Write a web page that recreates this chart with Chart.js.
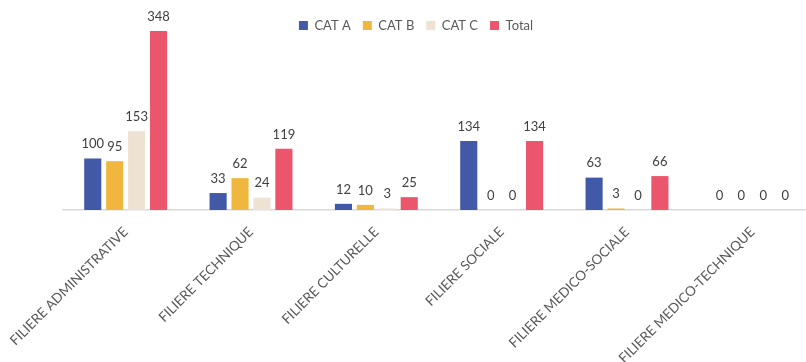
<!DOCTYPE html>
<html>
<head>
<meta charset="utf-8">
<script src="https://cdn.jsdelivr.net/npm/chart.js@4/dist/chart.umd.min.js"></script>
<style>
  html, body { margin: 0; padding: 0; background: #fff; overflow: hidden; }
  #wrap { position: absolute; left: 0; top: 0; width: 832px; height: 362px; }
</style>
</head>
<body>
<div id="wrap"><canvas id="c" width="832" height="362"></canvas></div>
<script>
// Effectifs par filière et par catégorie
const categories = [
  'FILIERE ADMINISTRATIVE',
  'FILIERE TECHNIQUE',
  'FILIERE CULTURELLE',
  'FILIERE SOCIALE',
  'FILIERE MEDICO-SOCIALE',
  'FILIERE MEDICO-TECHNIQUE'
];
const catA  = [100, 33, 12, 134, 63, 0];
const catB  = [95, 62, 10, 0, 3, 0];
const catC  = [153, 24, 3, 0, 0, 0];
const total = [348, 119, 25, 134, 66, 0];

const seriesNames = ['CAT A', 'CAT B', 'CAT C', 'Total'];
const seriesColors = ['#4159A6', '#F0B73E', '#EEE2D2', '#EB566C'];

const FONT = 'Lato, "Open Sans", sans-serif';

// Value written above each bar
const valueLabels = {
  id: 'valueLabels',
  afterDatasetsDraw(chart) {
    const ctx = chart.ctx;
    ctx.save();
    ctx.font = '13px ' + FONT;
    ctx.fillStyle = '#404040';
    ctx.textAlign = 'center';
    ctx.textBaseline = 'bottom';
    chart.data.datasets.forEach((ds, i) => {
      const meta = chart.getDatasetMeta(i);
      meta.data.forEach((bar, j) => {
        ctx.fillText(String(ds.data[j]), bar.x, bar.y - 8);
      });
    });
    ctx.restore();
  }
};

// Let the legend sit over the top of the plot instead of pushing it down
const compactLegend = {
  id: 'compactLegend',
  afterInit(chart) {
    const lg = chart.legend;
    if (!lg) return;
    const fit = lg.fit;
    const draw = lg.draw;
    lg.fit = function () {
      fit.call(this);
      this._fullHeight = this.height;
      this.height = 2;
    };
    lg.draw = function () {
      const b = this.bottom, h = this.height;
      this.height = this._fullHeight;
      this.bottom = this.top + this._fullHeight;
      draw.call(this);
      this.height = h;
      this.bottom = b;
    };
  }
};

const data = [catA, catB, catC, total];

new Chart(document.getElementById('c'), {
  type: 'bar',
  data: {
    labels: categories,
    datasets: data.map((vals, i) => ({
      label: seriesNames[i],
      data: vals,
      backgroundColor: seriesColors[i],
      borderWidth: 0,
      categoryPercentage: 0.7,
      barPercentage: 0.78
    }))
  },
  options: {
    responsive: false,
    animation: false,
    layout: { padding: { top: 7, right: 0, left: 0, bottom: 0 } },
    scales: {
      x: {
        grid: { display: false, drawTicks: false },
        border: { display: true, color: '#D9D9D9', width: 1.5 },
        ticks: {
          maxRotation: 45, minRotation: 45,
          padding: 14,
          color: '#595959',
          font: { family: FONT, size: 13.5 }
        },
        afterFit(scale) {
          scale.height = 152;
          scale.paddingLeft = 63;
          scale.paddingRight = 17;
        }
      },
      y: {
        display: false,
        min: 0,
        max: 391
      }
    },
    plugins: {
      legend: {
        position: 'top',
        labels: {
          boxWidth: 9, boxHeight: 9,
          padding: 12,
          color: '#595959',
          font: { family: FONT, size: 13 }
        }
      },
      tooltip: { enabled: false }
    }
  },
  plugins: [valueLabels, compactLegend]
});
</script>
</body>
</html>
